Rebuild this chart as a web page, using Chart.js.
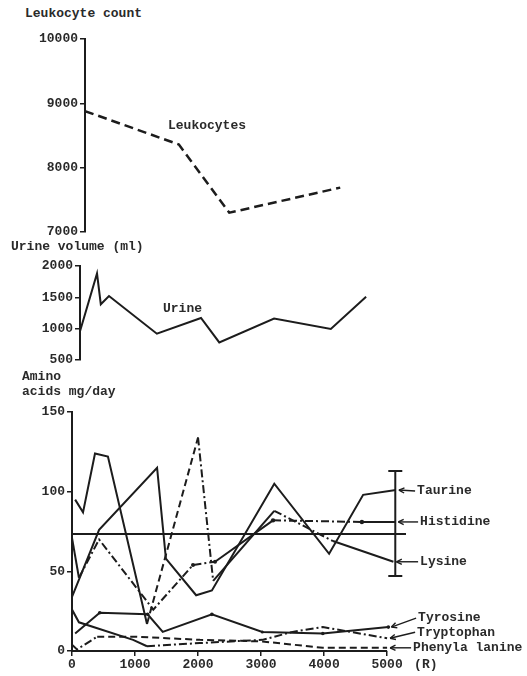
<!DOCTYPE html>
<html>
<head>
<meta charset="utf-8">
<script src="https://cdn.jsdelivr.net/npm/chart.js@4.4.1/dist/chart.umd.min.js"></script>
<style>
  html, body { margin: 0; padding: 0; background: #fff; }
  #page { position: relative; width: 527px; height: 676px; overflow: hidden;
          font-family: 'Liberation Mono', 'DejaVu Sans Mono', monospace; font-size: 13px;
          font-weight: bold; color: #2a2a2a; }
  #page canvas { position: absolute; left: 0; }
  .t { position: absolute; white-space: pre; line-height: 1; }
</style>
</head>
<body>
<div id="page">
  <canvas id="leuk" width="527" height="213" style="top:29px"></canvas>
  <canvas id="urine" width="527" height="114" style="top:256px"></canvas>
  <canvas id="amino" width="527" height="271" style="top:402px"></canvas>
  <div class="t" style="left:25px;top:7px">Leukocyte count</div>
  <div class="t" style="left:11px;top:240px">Urine volume (ml)</div>
  <div class="t" style="left:22px;top:370px">Amino</div>
  <div class="t" style="left:22px;top:385px">acids mg/day</div>
  <div class="t" style="left:168px;top:119px">Leukocytes</div>
  <div class="t" style="left:163px;top:302px">Urine</div>
</div>
<script>
// ---- data: cumulative dose (R) against each measurement ----
const leukDose = [0, 1490, 2290, 4050];
const leukCount = [8880, 8360, 7300, 7690];
const leukTicks = [7000, 8000, 9000, 10000];

const urineDose = [0, 270, 330, 460, 1220, 1920, 2210, 3080, 3980, 4540];
const urineVolume = [960, 1880, 1390, 1520, 920, 1170, 780, 1160, 995, 1510];
const urineTicks = [500, 1000, 1500, 2000];

const taurineDose = [0, 430, 1350, 1490, 1970, 2220, 3210, 4080, 4620, 5140];
const taurine = [34, 76, 115, 58, 35, 38, 105, 61, 98, 101];
const histidineDose = [0, 110, 430, 1290, 1920, 2270, 3190, 4600, 5130];
const histidine = [71, 46, 70, 26, 54, 56, 82, 81, 81];
const lysineDose = [50, 175, 365, 570, 1190, 2000, 2240, 3210, 4140, 5100];
const lysine = [95, 87, 124, 122, 17, 134, 44, 88, 69, 56];
const tyrosineDose = [50, 440, 1200, 1440, 2220, 3020, 3980, 5020];
const tyrosine = [11, 24, 23, 12, 23, 12, 11, 15];
const tryptophanDose = [0, 110, 970, 1190, 2030, 3020, 3500, 3980, 5000];
const tryptophan = [26, 18, 7, 3, 5, 7, 12, 15, 8];
const phenylalanineDose = [0, 80, 400, 1000, 2030, 3020, 3980, 5000];
const phenylalanine = [4, 1, 9, 9, 7, 6, 2, 2];
const normalDose = [0, 5300];
const normalLevel = [73.5, 73.5];
const rangeDose = 5130, rangeLow = 47, rangeHigh = 113;
const aminoTicks = [0, 50, 100, 150];
const doseTicks = [0, 1000, 2000, 3000, 4000, 5000];

// ---- shared look ----
const INK = '#1c1c1c';
const TEXT = '#2a2a2a';
const FONT = "'Liberation Mono', 'DejaVu Sans Mono', monospace";
Chart.defaults.font.family = FONT;
Chart.defaults.font.size = 13;
Chart.defaults.font.weight = 'bold';
Chart.defaults.color = TEXT;

const SOLID = [], DASH = [7, 4], DASHDOT = [8, 3, 2, 3];
const pts = (xs, ys) => xs.map((x, i) => ({ x, y: ys[i] }));

function line(data, opts = {}) {
  return Object.assign({
    data, borderColor: INK, borderWidth: 2, pointRadius: 0,
    pointBackgroundColor: INK, pointBorderWidth: 0, tension: 0, fill: false
  }, opts);
}
function segDash(patterns) {
  return { borderDash: ctx => patterns[ctx.p0DataIndex] || SOLID };
}

function yAxis(width, min, max, ticks) {
  return {
    type: 'linear', min, max,
    afterFit: s => { s.width = width; },
    afterBuildTicks: s => { s.ticks = ticks.map(v => ({ value: v })); },
    border: { display: true, color: INK, width: 2 },
    grid: { display: true, drawOnChartArea: false, drawTicks: true, tickLength: 5, color: INK, lineWidth: 1.5 },
    ticks: { padding: 2, color: TEXT, callback: v => String(v) }
  };
}
const hiddenX = { type: 'linear', min: 0, max: 5300, display: false };

function baseOptions(scales, padding) {
  return {
    responsive: false, animation: false, devicePixelRatio: 1,
    layout: { padding },
    plugins: { legend: { display: false }, tooltip: { enabled: false } },
    scales
  };
}

// ---- leukocyte panel ----
new Chart(document.getElementById('leuk'), {
  type: 'line',
  data: { datasets: [line(pts(leukDose, leukCount), { borderWidth: 2.5, borderDash: [9, 5] })] },
  options: baseOptions({ x: hiddenX, y: yAxis(85, 7000, 10000, leukTicks) },
                       { top: 10, bottom: 10, left: 0, right: 527 - 85 - 334 })
});

// ---- urine panel ----
new Chart(document.getElementById('urine'), {
  type: 'line',
  data: { datasets: [line(pts(urineDose, urineVolume))] },
  options: baseOptions({ x: hiddenX, y: yAxis(80, 500, 2000, urineTicks) },
                       { top: 10, bottom: 10, left: 0, right: 527 - 80 - 334 })
});

// ---- amino acid panel ----
const tags = [
  { name: 'Taurine', ds: 0, dy: 1, dx: 30 },
  { name: 'Histidine', ds: 1, dy: 0, dx: 33 },
  { name: 'Lysine', ds: 2, dy: 0, dx: 33 },
  { name: 'Tyrosine', ds: 3, dy: -9, dx: 31 },
  { name: 'Tryptophan', ds: 4, dy: -6, dx: 30 },
  { name: 'Phenyla lanine', ds: 5, dy: 0, dx: 26 }
];

const aminoDecor = {
  id: 'aminoDecor',
  afterDatasetsDraw(chart) {
    const { ctx, scales: { x, y } } = chart;
    const base = y.getPixelForValue(0);
    ctx.save();
    ctx.strokeStyle = INK;
    ctx.fillStyle = TEXT;
    ctx.lineCap = 'butt';
    // dose axis, drawn only over the measured range
    ctx.lineWidth = 2;
    ctx.beginPath();
    ctx.moveTo(x.getPixelForValue(0) - 1, base);
    ctx.lineTo(x.getPixelForValue(5000), base);
    ctx.stroke();
    // range bar at the last sampling
    const rx = x.getPixelForValue(rangeDose);
    const yTop = y.getPixelForValue(rangeHigh), yBot = y.getPixelForValue(rangeLow);
    ctx.beginPath();
    ctx.moveTo(rx, yTop); ctx.lineTo(rx, yBot);
    ctx.moveTo(rx - 7, yTop); ctx.lineTo(rx + 7, yTop);
    ctx.moveTo(rx - 7, yBot); ctx.lineTo(rx + 7, yBot);
    ctx.stroke();
    // series names with pointer arrows
    ctx.font = 'bold 13px ' + FONT;
    ctx.textBaseline = 'middle';
    ctx.textAlign = 'left';
    ctx.lineWidth = 1.4;
    const x5000 = x.getPixelForValue(5000);
    tags.forEach(t => {
      const meta = chart.getDatasetMeta(t.ds);
      const last = meta.data[meta.data.length - 1];
      const tipX = last.x + 3, tipY = last.y;
      const tx = x5000 + t.dx, ty = tipY + t.dy;
      ctx.fillText(t.name, tx, ty);
      ctx.beginPath();
      ctx.moveTo(tx - 2, ty);
      ctx.lineTo(tipX, tipY);
      ctx.stroke();
      const a = Math.atan2(ty - tipY, tx - 2 - tipX);
      ctx.beginPath();
      ctx.moveTo(tipX, tipY);
      ctx.lineTo(tipX + 6 * Math.cos(a - 0.45), tipY + 6 * Math.sin(a - 0.45));
      ctx.moveTo(tipX, tipY);
      ctx.lineTo(tipX + 6 * Math.cos(a + 0.45), tipY + 6 * Math.sin(a + 0.45));
      ctx.stroke();
    });
    // dose unit
    ctx.textBaseline = 'top';
    ctx.fillText('(R)', x5000 + 27, base + 7);
    ctx.restore();
  }
};

new Chart(document.getElementById('amino'), {
  type: 'line',
  data: {
    datasets: [
      line(pts(taurineDose, taurine)),
      line(pts(histidineDose, histidine), {
        pointRadius: [0, 0, 0, 0, 2, 2, 2.2, 2.2, 0],
        segment: segDash([SOLID, DASHDOT, DASHDOT, DASHDOT, DASHDOT, SOLID, DASHDOT, SOLID])
      }),
      line(pts(lysineDose, lysine), {
        segment: segDash([SOLID, SOLID, SOLID, SOLID, DASH, DASHDOT, SOLID, DASHDOT, SOLID])
      }),
      line(pts(tyrosineDose, tyrosine), { pointRadius: [0, 1.8, 1.8, 0, 1.8, 1.5, 1.8, 1.8] }),
      line(pts(tryptophanDose, tryptophan), {
        segment: segDash([SOLID, SOLID, SOLID, DASHDOT, DASHDOT, DASHDOT, DASHDOT, DASHDOT])
      }),
      line(pts(phenylalanineDose, phenylalanine), {
        segment: segDash([DASHDOT, DASHDOT, DASH, DASH, DASH, DASH, DASH])
      }),
      line(pts(normalDose, normalLevel))
    ]
  },
  options: baseOptions({
    x: {
      type: 'linear', min: 0, max: 5300,
      afterFit: s => { s.height = 22; },
      afterBuildTicks: s => { s.ticks = doseTicks.map(v => ({ value: v })); },
      border: { display: false },
      grid: { display: true, drawOnChartArea: false, drawTicks: true, tickLength: 5, color: INK, lineWidth: 1.5 },
      ticks: { padding: 1, color: TEXT, maxRotation: 0, callback: v => String(v) }
    },
    y: yAxis(72, 0, 150, aminoTicks)
  }, { top: 10, bottom: 0, left: 0, right: 527 - 72 - 334 }),
  plugins: [aminoDecor]
});
</script>
</body>
</html>
